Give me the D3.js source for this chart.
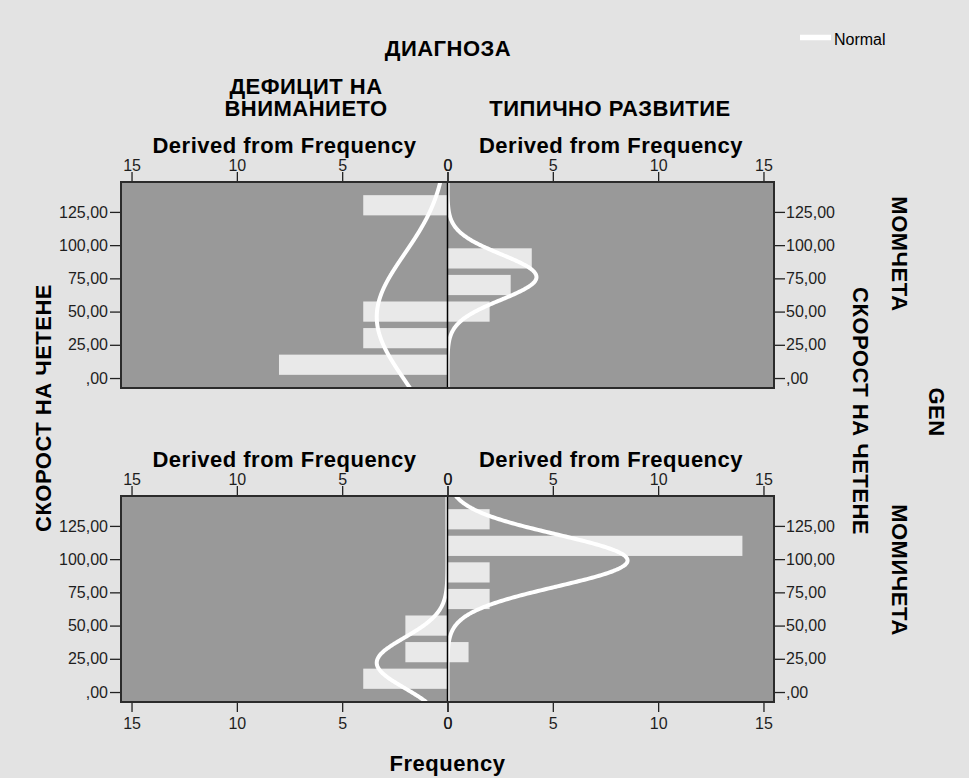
<!DOCTYPE html>
<html><head><meta charset="utf-8">
<script src="https://cdn.jsdelivr.net/npm/d3@7"></script>
<style>
body{margin:0;background:#e3e3e3}
text{font-family:"Liberation Sans",Arial,sans-serif}
</style>
</head><body>
<svg id="c" width="969" height="778"></svg>
<script>
// ---- data ----
const binCenters = [10, 30, 50, 70, 90, 110, 130];
const boysAttention = [8, 4, 4, 0, 0, 0, 4];
const boysTypical = [0, 0, 2, 3, 4, 0, 0];
const girlsAttention = [4, 2, 2, 0, 0, 0, 0];
const girlsTypical = [0, 1, 0, 2, 2, 14, 2];
// normal curve parameters: [boys-attention, boys-typical, girls-attention, girls-typical]
const normalMean = [46, 76, 22, 99];
const normalSD = [47.5, 17, 19, 19.6];
const binWidth = 20;
const freqTicks = [0, 5, 10, 15];
const yTicks = [0, 25, 50, 75, 100, 125];
const yTickLabels = [",00", "25,00", "50,00", "75,00", "100,00", "125,00"];
const colLabels = [["ДЕФИЦИТ НА", "ВНИМАНИЕТО"], ["ТИПИЧНО РАЗВИТИЕ"]];
const rowLabels = ["МОМЧЕТА", "МОМИЧЕТА"];

const svg = d3.select("#c");
svg.append("rect").attr("width", 969).attr("height", 778).attr("fill", "#e3e3e3");

const seriesGrid = [[boysAttention, boysTypical], [girlsAttention, girlsTypical]];
const rows = [{y0: 182, y1: 388}, {y0: 496, y1: 702}];
const cols = [{x0: 121, x1: 447.5}, {x0: 447.5, x1: 774}];
const xMid = 447.5;
const fs = 16;

function styleAxis(g) {
  g.select(".domain").remove();
  g.selectAll(".tick line").attr("stroke", "#222").attr("stroke-width", 1.3);
  g.selectAll(".tick text").attr("fill", "#1e1e1e").attr("font-size", fs)
    .attr("font-family", '"Liberation Sans",Arial,sans-serif');
}

const curveSamples = d3.range(-7.5, 147.6, 0.5);

rows.forEach((row, r) => {
  const y = d3.scaleLinear().domain([-7.5, 147.5]).range([row.y1, row.y0]);
  cols.forEach((col, c) => {
    const x = c === 0
      ? d3.scaleLinear().domain([0, 15.5]).range([xMid, 121])
      : d3.scaleLinear().domain([0, 15.5]).range([xMid, 774]);
    const vals = seriesGrid[r][c];
    const idx = r * 2 + c;
    const g = svg.append("g");
    const clipId = "clip" + idx;
    svg.append("clipPath").attr("id", clipId).append("rect")
      .attr("x", col.x0).attr("y", row.y0).attr("width", col.x1 - col.x0).attr("height", row.y1 - row.y0);
    g.append("rect").attr("x", col.x0).attr("y", row.y0)
      .attr("width", col.x1 - col.x0).attr("height", row.y1 - row.y0).attr("fill", "#999999");
    const inner = g.append("g").attr("clip-path", `url(#${clipId})`);
    inner.selectAll("rect.bar").data(binCenters.map((b, i) => ({b, v: vals[i]})).filter(d => d.v > 0))
      .join("rect").attr("class", "bar")
      .attr("x", d => Math.min(x(0), x(d.v)))
      .attr("width", d => Math.abs(x(d.v) - x(0)))
      .attr("y", d => y(d.b + 7.6))
      .attr("height", d => y(d.b - 7.6) - y(d.b + 7.6))
      .attr("fill", "#e9e9e9");
    const n = d3.sum(vals);
    const mu = normalMean[idx], sd = normalSD[idx];
    const dens = v => n * binWidth * Math.exp(-0.5 * ((v - mu) / sd) ** 2) / (sd * Math.sqrt(2 * Math.PI));
    const line = d3.line().x(v => x(dens(v))).y(v => y(v)).curve(d3.curveBasis);
    inner.append("path").datum(curveSamples).attr("d", line)
      .attr("fill", "none").attr("stroke", "#ffffff").attr("stroke-width", 4);

    // top axis
    svg.append("g").attr("transform", `translate(0,${row.y0})`)
      .call(d3.axisTop(x).tickValues(freqTicks).tickSize(10).tickPadding(1)).call(styleAxis);
    if (r === 1) {
      svg.append("g").attr("transform", `translate(0,${row.y1})`)
        .call(d3.axisBottom(x).tickValues(freqTicks).tickSize(10).tickPadding(6)).call(styleAxis);
    }
    // panel header
    svg.append("text").attr("x", c === 0 ? 284.5 : 611).attr("y", row.y0 - 29)
      .attr("text-anchor", "middle").attr("font-weight", "bold").attr("font-size", 22)
      .attr("letter-spacing", 0.5).attr("fill", "#000").text("Derived from Frequency");
  });
  // y axes
  const yl = d3.axisLeft(y).tickValues(yTicks).tickFormat((d, i) => yTickLabels[i]).tickSize(11).tickPadding(2);
  svg.append("g").attr("transform", "translate(121,0)").call(yl).call(styleAxis);
  const yr = d3.axisRight(y).tickValues(yTicks).tickFormat((d, i) => yTickLabels[i]).tickSize(11).tickPadding(1);
  svg.append("g").attr("transform", "translate(774,0)").call(yr).call(styleAxis);

  // center line and borders
  svg.append("line").attr("x1", xMid).attr("x2", xMid).attr("y1", row.y0).attr("y2", row.y1)
    .attr("stroke", "#000").attr("stroke-width", 1.5);
  svg.append("rect").attr("x", 121).attr("y", row.y0).attr("width", 774 - 121).attr("height", row.y1 - row.y0)
    .attr("fill", "none").attr("stroke", "#2b2b2b").attr("stroke-width", 2);
});

function boldText(x, y, t, rot) {
  const el = svg.append("text").attr("text-anchor", "middle").attr("font-weight", "bold")
    .attr("font-size", 22).attr("letter-spacing", 0.5).attr("fill", "#000").text(t);
  if (rot) el.attr("transform", `translate(${x},${y}) rotate(${rot})`);
  else el.attr("x", x).attr("y", y);
  return el;
}
boldText(448, 56, "ДИАГНОЗА");
boldText(306, 94, colLabels[0][0]);
boldText(306, 116, colLabels[0][1]);
boldText(610, 116, colLabels[1][0]);
boldText(447.5, 771, "Frequency");
boldText(51, 408, "СКОРОСТ НА ЧЕТЕНЕ", -90);
boldText(853, 411, "СКОРОСТ НА ЧЕТЕНЕ", 90);
boldText(892, 254, rowLabels[0], 90);
boldText(892, 570, rowLabels[1], 90);
boldText(929, 412, "GEN", 90);

// legend
svg.append("line").attr("x1", 800).attr("x2", 831).attr("y1", 37.5).attr("y2", 37.5)
  .attr("stroke", "#fff").attr("stroke-width", 5.5);
svg.append("text").attr("x", 834).attr("y", 45).attr("font-size", 16).attr("fill", "#000").text("Normal");
</script>
</body></html>
